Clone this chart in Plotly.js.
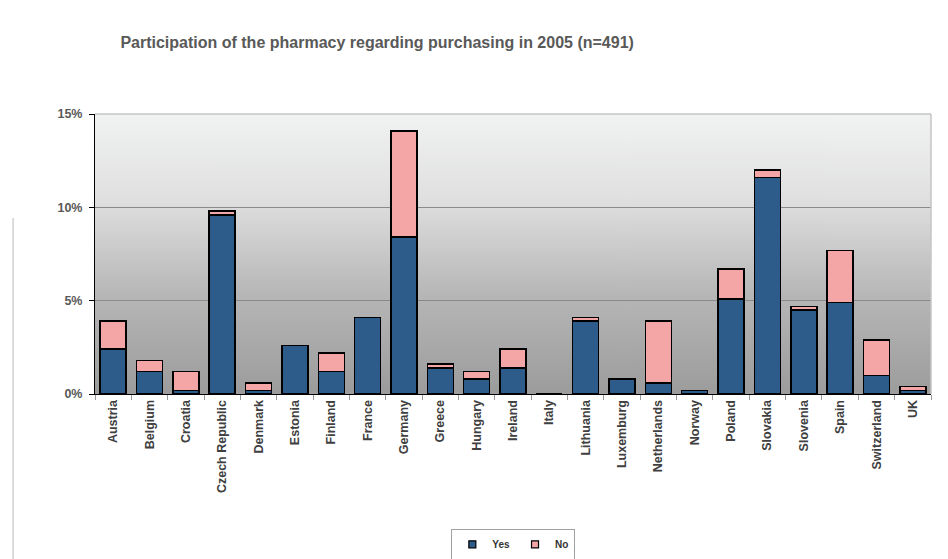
<!DOCTYPE html>
<html>
<head>
<meta charset="utf-8">
<script src="https://cdn.plot.ly/plotly-3.0.1.min.js"></script>
<style>
  html, body { margin: 0; padding: 0; background: #ffffff; }
  #chart { width: 948px; height: 559px; }
</style>
</head>
<body>
<div id="chart"></div>
<script>
const countries = ["Austria", "Belgium", "Croatia", "Czech Republic", "Denmark", "Estonia", "Finland", "France", "Germany", "Greece", "Hungary", "Ireland", "Italy", "Lithuania", "Luxemburg", "Netherlands", "Norway", "Poland", "Slovakia", "Slovenia", "Spain", "Switzerland", "UK"];
const yesValues = [2.4, 1.2, 0.2, 9.6, 0.2, 2.6, 1.2, 4.1, 8.4, 1.4, 0.8, 1.4, 0, 3.9, 0.8, 0.6, 0.2, 5.1, 11.6, 4.5, 4.9, 1.0, 0.2];
const noValues  = [1.5, 0.6, 1.0, 0.2, 0.4, 0, 1.0, 0, 5.7, 0.2, 0.4, 1.0, 0, 0.2, 0, 3.3, 0, 1.6, 0.4, 0.2, 2.8, 1.9, 0.2];
const yTickVals = [0, 5, 10, 15];
const yTickText = ["0%", "5%", "10%", "15%"];
const seriesNames = ["Yes", "No"];
const seriesColors = ["#2d5c8a", "#f4a6a6"];

// vertical gradient for the plot background
function gradientURL() {
  const c = document.createElement("canvas");
  c.width = 4; c.height = 280;
  const ctx = c.getContext("2d");
  const g = ctx.createLinearGradient(0, 0, 0, 280);
  g.addColorStop(0, "#f1f2f2");
  g.addColorStop(0.3, "#e0e0e0");
  g.addColorStop(0.65, "#b6b6b6");
  g.addColorStop(1, "#9c9c9c");
  ctx.fillStyle = g;
  ctx.fillRect(0, 0, 4, 280);
  return c.toDataURL("image/png");
}

const font = "Liberation Sans, Arial, sans-serif";

const traces = [
  {
    type: "bar", name: seriesNames[0], x: countries, y: yesValues, showlegend: false,
    marker: { color: seriesColors[0], line: { color: "#000000", width: 1.5 } },
    hoverinfo: "x+y"
  },
  {
    type: "bar", name: seriesNames[1], x: countries, y: noValues, showlegend: false,
    marker: { color: seriesColors[1], line: { color: "#000000", width: 1.5 } },
    hoverinfo: "x+y"
  },
  // legend entries with small square swatches
  {
    type: "scatter", mode: "markers", name: seriesNames[0], x: [null], y: [null],
    marker: { symbol: "square", size: 7, color: seriesColors[0], line: { color: "#000000", width: 1.2 } }
  },
  {
    type: "scatter", mode: "markers", name: seriesNames[1], x: [null], y: [null],
    marker: { symbol: "square", size: 7, color: seriesColors[1], line: { color: "#000000", width: 1.2 } }
  }
];

const layout = {
  width: 948, height: 559,
  margin: { l: 95, r: 17, t: 114, b: 165 },
  paper_bgcolor: "#ffffff",
  plot_bgcolor: "rgba(0,0,0,0)",
  barmode: "stack",
  bargap: 0.285,
  font: { family: font, color: "#404040" },
  title: {
    text: "<b>Participation of the pharmacy regarding purchasing in 2005 (n=491)</b>",
    font: { family: font, size: 16, color: "#595959" },
    xref: "container", x: 0.127, xanchor: "left",
    yref: "container", y: 0.925, yanchor: "middle"
  },
  xaxis: {
    type: "category",
    tickangle: -90,
    tickfont: { family: font, size: 12.5, color: "#404040", weight: "bold" },
    showline: true, linecolor: "#000000", linewidth: 1,
    ticks: "outside", tickson: "boundaries", ticklen: 5, tickcolor: "#9a9a9a",
    showgrid: false, fixedrange: true, automargin: false
  },
  yaxis: {
    range: [0, 15],
    tickvals: yTickVals, ticktext: yTickText,
    tickfont: { family: font, size: 12.5, color: "#595959", weight: "bold" },
    showline: true, linecolor: "#000000", linewidth: 1,
    ticks: "outside", ticklen: 5, tickcolor: "#000000",
    ticklabelstandoff: 4,
    showgrid: true, gridcolor: "#8a8a8a", gridwidth: 1,
    zeroline: false, fixedrange: true, automargin: false
  },
  images: [{
    source: gradientURL(),
    xref: "paper", yref: "paper", x: 0, y: 1, sizex: 1, sizey: 1,
    xanchor: "left", yanchor: "top", sizing: "stretch", layer: "below"
  }],
  shapes: [
    { type: "line", xref: "paper", yref: "paper", x0: 0, x1: 1, y0: 1, y1: 1,
      line: { color: "#c4c4c4", width: 1.5 }, layer: "above" },
    { type: "line", xref: "paper", yref: "paper", x0: 1, x1: 1, y0: 0, y1: 1,
      line: { color: "#c4c4c4", width: 1.5 }, layer: "above" },
    { type: "line", xref: "paper", yref: "paper", x0: -0.098, x1: -0.098, y0: 0.629, y1: -0.6,
      line: { color: "#d0d0d0", width: 1.5 }, layer: "above" }
  ],
  legend: {
    orientation: "h",
    xref: "container", yref: "container",
    x: 0.5415, xanchor: "center",
    y: 0.054, yanchor: "top",
    bgcolor: "#ffffff", bordercolor: "#a0a0a0", borderwidth: 1,
    font: { family: font, size: 10, color: "#333333", weight: "bold" },
    traceorder: "normal",
    itemwidth: 30,
    tracegroupgap: 0
  },
  showlegend: true
};

Plotly.newPlot("chart", traces, layout, { displayModeBar: false, staticPlot: true });
</script>
</body>
</html>
